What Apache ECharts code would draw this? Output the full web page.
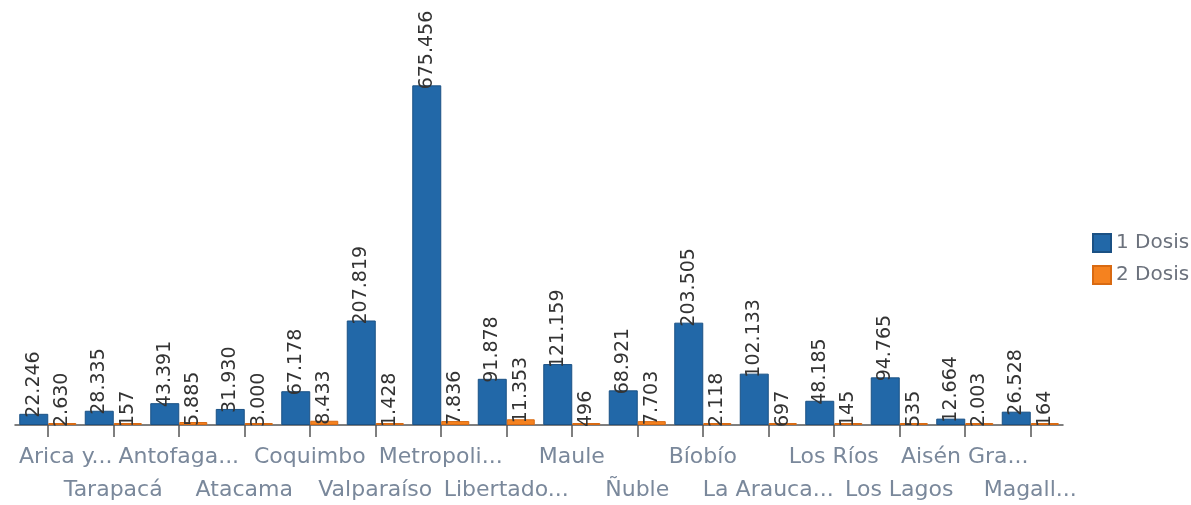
<!DOCTYPE html>
<html>
<head>
<meta charset="utf-8">
<script src="https://cdn.jsdelivr.net/npm/echarts@6/dist/echarts.min.js"></script>
<style>
  html, body { margin: 0; padding: 0; background: #fff; }
  .EC { width: 1191px; height: 505px; }
</style>
</head>
<body>
<div class="EC"></div>
<script>
// region labels as shown (truncated like the original)
const regions = ['Arica y...', 'Tarapacá', 'Antofaga...', 'Atacama', 'Coquimbo', 'Valparaíso',
    'Metropoli...', 'Libertado...', 'Maule', 'Ñuble', 'Bíobío', 'La Arauca...',
    'Los Ríos', 'Los Lagos', 'Aisén Gra...', 'Magall...']
const dosis1 = [22246, 28335, 43391, 31930, 67178, 207819, 675456, 91878, 121159, 68921,
    203505, 102133, 48185, 94765, 12664, 26528]
const dosis2 = [2630, 157, 5885, 3000, 8433, 1428, 7836, 11353, 496, 7703, 2118, 697,
    145, 535, 2003, 164]
const seriesNames = ['1 Dosis', '2 Dosis']

window.onload = () => {
    let EC = echarts.init(document.querySelector('.EC'))

    // Chilean thousands separator
    const fmt = v => String(v).replace(/\B(?=(\d{3})+(?!\d))/g, '.')

    const valueLabel = {
        show: true,
        position: 'top',
        rotate: 90,
        align: 'left',
        verticalAlign: 'middle',
        distance: 2,
        offset: [-6, 0],
        fontFamily: 'DejaVu Sans',
        fontSize: 19,
        color: '#333',
        formatter: p => fmt(p.value)
    }

    const labelFont = {
        fontFamily: 'DejaVu Sans',
        fontSize: 22,
        lineHeight: 33,
        color: '#7a889b'
    }

    let option = {
        backgroundColor: '#fff',
        animation: false,
        legend: {
            orient: 'vertical',
            left: 1087,
            top: 228,
            itemWidth: 18,
            itemHeight: 18,
            itemGap: 12,
            icon: 'rect',
            textStyle: {
                fontFamily: 'DejaVu Sans',
                fontSize: 20,
                color: '#6b717c'
            },
            data: seriesNames
        },
        grid: {
            left: 15,
            right: 128,
            top: 73,
            bottom: 80,
            outerBoundsMode: 'none'
        },
        xAxis: {
            type: 'category',
            data: regions,
            axisLine: { lineStyle: { color: '#555', width: 1.5 } },
            axisTick: { show: true, alignWithLabel: true, length: 12, lineStyle: { color: '#555', width: 1.5 } },
            axisLabel: Object.assign({
                interval: 0,
                hideOverlap: false,
                margin: 16,
                // first label is nudged right like in the original
                formatter: (v, i) => (i === 0 ? '{first|' + v + '}' : (i % 2 ? '\n' + v : v)),
                rich: {
                    first: Object.assign({ padding: [0, 0, 0, 36] }, labelFont)
                }
            }, labelFont)
        },
        yAxis: {
            type: 'value',
            min: 0,
            max: 700000,
            show: false,
            splitLine: { show: false }
        },
        series: [{
            name: seriesNames[0],
            type: 'bar',
            data: dosis1,
            barWidth: 29,
            barGap: '0%',
            itemStyle: { color: '#2268a8', borderColor: '#1b5184', borderWidth: 1 },
            label: valueLabel
        }, {
            name: seriesNames[1],
            type: 'bar',
            data: dosis2,
            barWidth: 28,
            barMinHeight: 2,
            itemStyle: { color: '#f5821f', borderColor: '#d96a12', borderWidth: 1 },
            label: valueLabel
        }]
    }
    EC.setOption(option)
}
</script>
</body>
</html>
